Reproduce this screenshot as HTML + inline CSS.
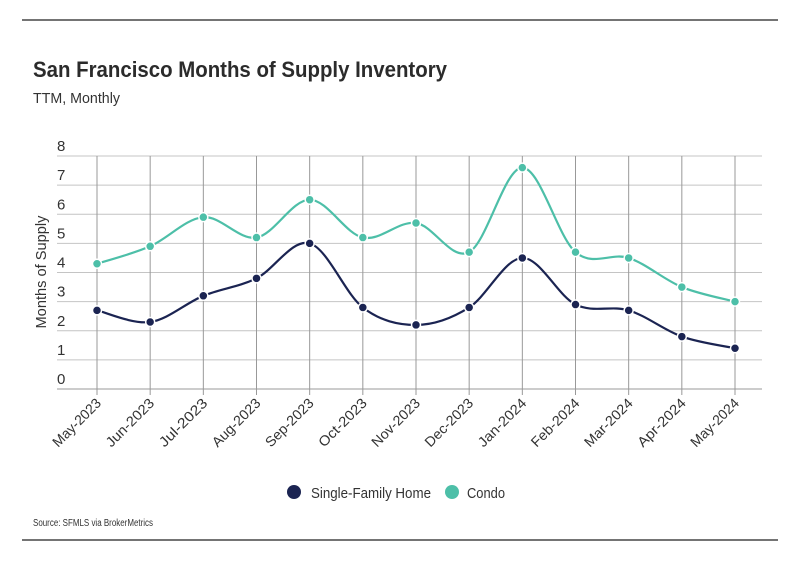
<!DOCTYPE html>
<html><head><meta charset="utf-8"><style>
body{margin:0;background:#fff;}
svg text{font-family:"Liberation Sans",sans-serif;}
</style></head><body>
<svg id="c" width="799" height="575" xmlns="http://www.w3.org/2000/svg">
<line x1="22" y1="20" x2="778" y2="20" stroke="#222" stroke-width="1.2"/>
<text x="33" y="77" font-size="22" font-weight="bold" fill="#2b2b2b" textLength="414" lengthAdjust="spacingAndGlyphs">San Francisco Months of Supply Inventory</text>
<text x="33" y="103" font-size="15" fill="#333" textLength="87" lengthAdjust="spacingAndGlyphs">TTM, Monthly</text>
<g id="grid"></g>
<g id="ylab"></g>
<g id="xlab"></g>
<text transform="translate(46,272) rotate(-90)" text-anchor="middle" font-size="15" fill="#333" textLength="113" lengthAdjust="spacingAndGlyphs">Months of Supply</text>
<g id="series"></g>
<g>
<g><circle cx="294" cy="492" r="7" fill="#1b2452"/><text x="311" y="498" font-size="15" fill="#333" textLength="120" lengthAdjust="spacingAndGlyphs">Single-Family Home</text></g>
<g><circle cx="452" cy="492" r="7" fill="#4dbfa8"/><text x="467" y="498" font-size="15" fill="#333" textLength="38" lengthAdjust="spacingAndGlyphs">Condo</text></g>
</g>
<text x="33" y="526" font-size="10" fill="#333" textLength="120" lengthAdjust="spacingAndGlyphs">Source:  SFMLS via BrokerMetrics</text>
<line x1="22" y1="540" x2="778" y2="540" stroke="#222" stroke-width="1.2"/>
</svg>
<script>
const categories=["May-2023","Jun-2023","Jul-2023","Aug-2023","Sep-2023","Oct-2023","Nov-2023","Dec-2023","Jan-2024","Feb-2024","Mar-2024","Apr-2024","May-2024"];
const singleFamily=[2.7,2.3,3.2,3.8,5.0,2.8,2.2,2.8,4.5,2.9,2.7,1.8,1.4];
const condo=[4.3,4.9,5.9,5.2,6.5,5.2,5.7,4.7,7.6,4.7,4.5,3.5,3.0];
const yTicks=[0,1,2,3,4,5,6,7,8];
const NS="http://www.w3.org/2000/svg";
const x0=97,x1=735,yTop=156,yBot=389,yMax=8;
const xs=i=>x0+i*(x1-x0)/(categories.length-1);
const ys=v=>yBot-v*(yBot-yTop)/yMax;
function mk(t,a,p){const e=document.createElementNS(NS,t);for(const k in a)e.setAttribute(k,a[k]);p.appendChild(e);return e;}
const grid=document.getElementById('grid'),ylab=document.getElementById('ylab'),xlab=document.getElementById('xlab'),ser=document.getElementById('series');
yTicks.forEach(v=>{
  const l=mk('line',{x1:57,x2:762,y1:ys(v),y2:ys(v),stroke:v===0?'#999':'#c4c4c4','stroke-width':1},grid);
  
  
  const t=mk('text',{x:57,y:ys(v)-5,'font-size':15,fill:'#333'},ylab);t.textContent=v;
  
  
});
categories.forEach((c,i)=>{
  const l=mk('line',{x1:xs(i),x2:xs(i),y1:yTop,y2:yBot+6,stroke:'#999','stroke-width':1},grid);
  
  
  const t=mk('text',{x:xs(i)+5,y:yBot+15,'font-size':14,fill:'#333','text-anchor':'end',textLength:62,lengthAdjust:'spacingAndGlyphs',transform:`rotate(-45 ${xs(i)+5} ${yBot+15})`},xlab);t.textContent=c;
  
  
});
function path(vals){
  const p=vals.map((v,i)=>[xs(i),ys(v)]);let d=`M${p[0][0]},${p[0][1]}`;
  for(let i=0;i<p.length-1;i++){
    const a=p[i-1]||p[i],b=p[i],c=p[i+1],e=p[i+2]||c,k=6;
    d+=`C${b[0]+(c[0]-a[0])/k},${b[1]+(c[1]-a[1])/k} ${c[0]-(e[0]-b[0])/k},${c[1]-(e[1]-b[1])/k} ${c[0]},${c[1]}`;
  }return d;
}
[[condo,'#4dbfa8','condo'],[singleFamily,'#1b2452','single-family']].forEach(([vals,col,nm])=>{
  const pa=mk('path',{d:path(vals),fill:'none',stroke:col,'stroke-width':2.2},ser);
  
  
  vals.forEach((v,i)=>{
    const c=mk('circle',{cx:xs(i),cy:ys(v),r:4.5,fill:col,stroke:'#fff','stroke-width':1.5},ser);
    
    
  });
});
</script>
</body></html>
